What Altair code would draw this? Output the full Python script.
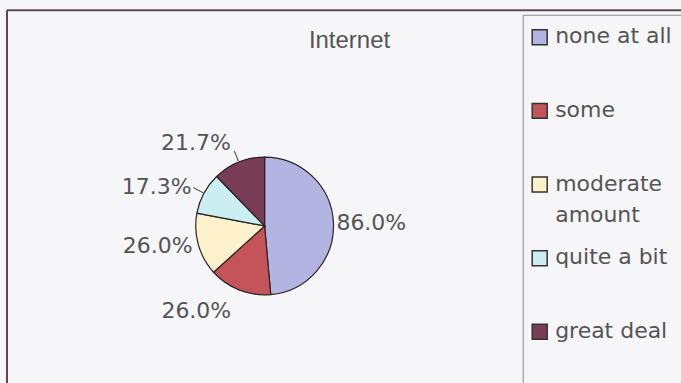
import altair as alt
import pandas as pd

# ---- data ----
categories = ["none at all", "some", "moderate amount", "quite a bit", "great deal"]
values = [86.0, 26.0, 26.0, 17.3, 21.7]
labels = ["86.0%", "26.0%", "26.0%", "17.3%", "21.7%"]
title_text = ["Internet"]
leader_categories = ["quite a bit", "great deal"]

# ---- styles ----
colors = ["#b4b4e2", "#c4535a", "#fcf1cb", "#caeef2", "#7a3d56"]
TEXT = "#545454"
BG = "#f6f6f9"
FRAME = "#5a4a4e"
CX, CY = 258, 216          # pie centre inside the view
R = 69

df = pd.DataFrame({"category": categories, "value": values, "label": labels,
                   "order": list(range(len(categories)))})

color_scale = alt.Scale(domain=categories, range=colors)

pie = alt.Chart(df).mark_arc(outerRadius=R, stroke="#2b2222", strokeWidth=1.2).encode(
    theta=alt.Theta("value:Q", stack=True),
    order=alt.Order("order:Q"),
    color=alt.Color("category:N", scale=color_scale, legend=None),
    x=alt.value(CX), y=alt.value(CY),
)

radius_expr = ("datum.category == 'none at all' ? 72 : datum.category == 'some' ? 92 : "
               "datum.category == 'moderate amount' ? 75 : datum.category == 'quite a bit' ? 83 : 90")


def with_mid(ch):
    return ch.transform_window(
        cum="sum(value)", sort=[alt.SortField("order")]
    ).transform_calculate(
        mid="datum.cum - datum.value / 2"
    )


def label_layer(align, expr):
    return with_mid(alt.Chart(df)).transform_calculate(
        lt=expr, r=radius_expr
    ).mark_text(align=align, baseline="middle", font="DejaVu Sans", fontSize=22, color=TEXT).encode(
        theta=alt.Theta("mid:Q", stack=None),
        radius=alt.Radius("r:Q", scale=None),
        text="lt:N",
        x=alt.value(CX), y=alt.value(CY),
    )

lab_left = label_layer("left", "datum.category == 'none at all' ? datum.label : ''")
lab_right = label_layer("right", "datum.category != 'none at all' ? datum.label : ''")

# leader lines (thin radial arcs) for the two small slices
leaders = with_mid(alt.Chart(df)).transform_calculate(
    mid2="datum.mid + 0.05"
).transform_filter(
    alt.FieldOneOfPredicate(field="category", oneOf=leader_categories)
).mark_arc(innerRadius=R + 1, outerRadius=R + 12, fill=None, filled=False,
           stroke="#666666", strokeWidth=1).encode(
    theta=alt.Theta("mid:Q", stack=None),
    theta2="mid2:Q",
    x=alt.value(CX), y=alt.value(CY),
)

# title
title_df = pd.DataFrame({"t": title_text})
title = alt.Chart(title_df).mark_text(
    font="Liberation Sans", fontSize=24, color=TEXT, align="center", baseline="alphabetic"
).encode(x=alt.value(343), y=alt.value(38), text="t:N")

# frame (top and left edges only; the rest lies outside the picture)
one = pd.DataFrame({"b": [0]})
frame_top = alt.Chart(one).mark_rule(color=FRAME, strokeWidth=2).encode(
    x=alt.value(0), x2=alt.value(700), y=alt.value(0))
frame_left = alt.Chart(one).mark_rule(color=FRAME, strokeWidth=2).encode(
    x=alt.value(0), y=alt.value(0), y2=alt.value(420))

# legend box
box = alt.Chart(one).mark_rect(fill=BG, stroke="#8a8a8a", strokeWidth=1).encode(
    x=alt.value(517), x2=alt.value(700), y=alt.value(5), y2=alt.value(420)
)

leg_y = alt.Y("category:N", axis=None,
              scale=alt.Scale(type="point", domain=categories, range=[27, 322], padding=0))

leg_sym = alt.Chart(df).mark_square(size=225, filled=True, stroke="#333333", strokeWidth=1.5, opacity=1).encode(
    x=alt.value(533.5), y=leg_y,
    color=alt.Color("category:N", scale=color_scale, legend=None),
)

leg_txt = alt.Chart(df).transform_calculate(
    lt="datum.category == 'moderate amount' ? 'moderate\\namount' : datum.category"
).mark_text(align="left", baseline="top", dy=-11, lineBreak="\n", lineHeight=32,
            font="DejaVu Sans", fontSize=22, color=TEXT).encode(
    x=alt.value(549), y=leg_y, text="lt:N",
)

chart = alt.layer(box, frame_top, frame_left, pie, leaders, lab_left, lab_right, title,
                  leg_sym, leg_txt).properties(
    width=675, height=373,
    autosize=alt.AutoSizeParams(type="none"),
    padding={"left": 7, "top": 10, "right": 0, "bottom": 0},
    background=BG,
).configure_view(strokeWidth=0, fill=BG)

chart.save("out.html", embed_options={"renderer": "svg", "actions": False})
